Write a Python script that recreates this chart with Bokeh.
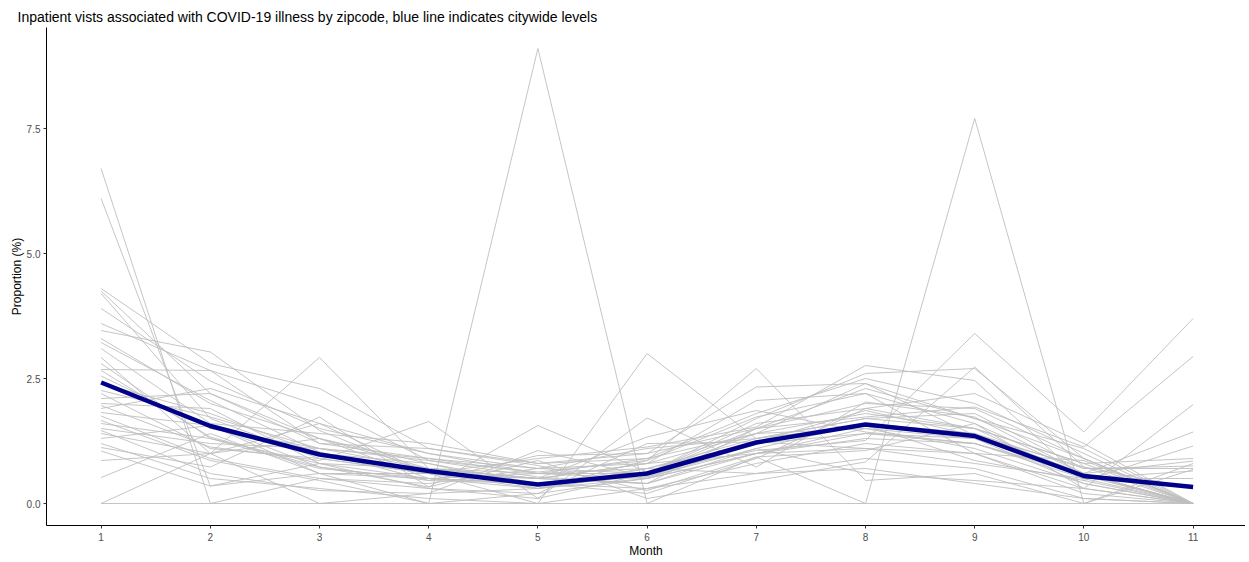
from bokeh.plotting import figure
from bokeh.models import Range1d, NumeralTickFormatter, FixedTicker, ColumnDataSource
from bokeh.embed import file_html
from bokeh.resources import INLINE

months = [1, 2, 3, 4, 5, 6, 7, 8, 9, 10, 11]

# Proportion (%) of inpatient visits by zipcode, per month
z01 = [6.70, 0.00, 0.50, 0.30, 0.20, 0.50, 1.00, 1.40, 1.20, 0.60, 0.00]
z02 = [6.10, 0.35, 0.80, 0.50, 0.40, 0.70, 1.30, 1.70, 1.50, 0.50, 0.00]
z03 = [4.30, 2.80, 2.30, 1.10, 0.80, 1.00, 1.50, 2.00, 1.90, 0.90, 0.00]
z04 = [4.25, 2.20, 1.30, 0.70, 0.50, 0.40, 1.10, 1.60, 1.40, 0.70, 0.70]
z05 = [4.20, 1.70, 0.90, 0.60, 0.30, 0.60, 1.70, 2.60, 2.70, 0.90, 0.00]
z06 = [3.90, 2.45, 1.50, 1.00, 0.60, 0.90, 1.40, 2.40, 1.70, 1.10, 0.00]
z07 = [3.60, 2.66, 1.20, 0.90, 0.70, 0.80, 2.06, 2.20, 1.60, 0.60, 0.85]
z08 = [3.46, 3.03, 1.46, 0.60, 0.90, 1.13, 1.53, 2.76, 2.46, 0.46, 0.00]
z09 = [3.22, 2.06, 1.03, 0.46, 0.40, 0.53, 1.23, 1.86, 1.36, 0.73, 0.30]
z10 = [2.92, 1.00, 2.92, 0.70, 0.50, 1.33, 1.86, 1.43, 1.20, 0.56, 0.00]
z11 = [2.68, 2.66, 1.96, 0.86, 0.63, 0.86, 1.73, 2.20, 1.00, 0.86, 0.00]
z12 = [2.66, 1.33, 0.73, 0.33, 1.56, 0.63, 1.06, 1.26, 3.40, 1.43, 3.70]
z13 = [2.26, 1.73, 1.10, 0.86, 0.53, 0.40, 1.50, 1.73, 1.93, 1.13, 2.94]
z14 = [2.10, 2.20, 1.20, 1.10, 0.76, 0.26, 0.93, 1.06, 1.60, 0.30, 1.98]
z15 = [1.96, 1.13, 0.86, 1.64, 0.10, 1.71, 0.73, 2.03, 1.73, 0.60, 1.43]
z16 = [1.82, 1.56, 0.60, 0.60, 0.00, 3.00, 1.30, 1.56, 0.86, 0.46, 1.15]
z17 = [1.66, 0.86, 0.46, 0.00, 9.10, 0.00, 0.93, 0.00, 7.70, 0.00, 0.68]
z18 = [1.46, 0.60, 0.26, 0.20, 0.30, 0.86, 2.70, 0.46, 0.60, 0.00, 0.80]
z19 = [1.30, 1.56, 0.73, 0.46, 0.96, 1.00, 2.33, 2.40, 1.36, 0.56, 0.00]
z20 = [1.12, 0.73, 1.73, 0.33, 0.86, 0.10, 0.46, 0.83, 2.73, 0.73, 0.00]
z21 = [0.86, 1.00, 0.00, 0.20, 1.06, 0.53, 1.10, 0.60, 0.46, 0.30, 0.00]
z22 = [0.52, 1.40, 0.60, 0.00, 0.20, 1.20, 1.23, 1.10, 1.00, 0.20, 0.00]
z23 = [0.00, 0.00, 0.00, 0.00, 0.00, 0.00, 0.00, 0.00, 0.00, 0.00, 0.00]
z24 = [0.00, 1.00, 1.30, 0.50, 0.60, 0.70, 1.20, 1.40, 1.30, 0.60, 0.00]
z25 = [2.00, 1.90, 0.80, 0.70, 0.50, 0.80, 1.40, 1.50, 1.10, 0.40, 0.00]
z26 = [2.40, 1.80, 1.00, 0.80, 0.30, 0.50, 1.00, 1.30, 1.20, 0.50, 0.50]
z27 = [1.50, 1.20, 1.10, 0.90, 0.60, 0.60, 1.60, 1.90, 1.50, 0.80, 0.00]
z28 = [1.75, 0.90, 0.50, 0.40, 0.70, 1.10, 1.30, 1.70, 1.80, 0.70, 0.75]
z29 = [2.80, 1.30, 0.70, 0.50, 0.40, 0.30, 0.80, 1.20, 1.00, 0.30, 0.00]
z30 = [3.10, 1.60, 1.40, 1.20, 0.80, 0.90, 1.80, 2.50, 2.00, 1.00, 0.00]
z31 = [1.20, 0.50, 0.30, 0.10, 0.00, 0.30, 0.60, 0.90, 0.70, 0.10, 0.00]
z32 = [2.20, 1.10, 0.90, 0.60, 0.50, 0.40, 1.00, 1.50, 1.30, 0.40, 0.00]
z33 = [1.90, 2.30, 1.60, 1.00, 0.70, 0.60, 1.40, 1.80, 1.50, 0.80, 0.90]
z34 = [2.55, 1.50, 1.10, 0.70, 0.60, 0.50, 1.20, 1.60, 1.40, 0.60, 0.00]
z35 = [1.05, 0.35, 0.60, 0.50, 0.30, 0.70, 0.60, 0.70, 0.40, 0.10, 0.00]
z36 = [3.30, 2.00, 1.30, 0.80, 0.40, 0.20, 0.90, 1.90, 2.20, 1.20, 0.00]
z37 = [1.40, 1.00, 1.60, 0.60, 0.50, 0.80, 1.00, 1.10, 0.80, 0.50, 0.65]
z38 = [1.60, 1.30, 0.80, 0.30, 0.10, 0.60, 1.50, 2.30, 1.70, 0.90, 0.00]

citywide = [2.42, 1.55, 0.98, 0.65, 0.38, 0.60, 1.22, 1.58, 1.35, 0.55, 0.33]

y_ticks = [0.0, 2.5, 5.0, 7.5]

zipcodes = [z01, z02, z03, z04, z05, z06, z07, z08, z09, z10, z11, z12, z13,
            z14, z15, z16, z17, z18, z19, z20, z21, z22, z23, z24, z25, z26,
            z27, z28, z29, z30, z31, z32, z33, z34, z35, z36, z37, z38]

FONT = "Liberation Sans"

p = figure(width=1245, height=560, output_backend="svg", toolbar_location=None,
           x_range=Range1d(0.5, 11.48), y_range=Range1d(-0.44, 9.52),
           min_border_left=46, min_border_right=0, min_border_top=27,
           min_border_bottom=20)

p.title.text = "Inpatient vists associated with COVID-19 illness by zipcode, blue line indicates citywide levels"
p.title.text_font = FONT
p.title.text_font_size = "14px"
p.title.text_font_style = "normal"
p.title.text_color = "#000000"
p.title.offset = -29
p.title.standoff = 2
p.title.vertical_align = "top"

src = ColumnDataSource(dict(xs=[months] * len(zipcodes), ys=zipcodes))
p.multi_line("xs", "ys", source=src, line_color="#bebebe", line_width=0.9)
p.line(months, citywide, line_color="#00008b", line_width=4.5)

p.xgrid.visible = False
p.ygrid.visible = False
p.outline_line_color = None
p.background_fill_color = "white"
p.border_fill_color = "white"

p.xaxis.ticker = FixedTicker(ticks=months)
p.yaxis.ticker = FixedTicker(ticks=y_ticks)
p.yaxis.formatter = NumeralTickFormatter(format="0.0")
p.xaxis.axis_label = "Month"
p.yaxis.axis_label = "Proportion (%)"

for ax in (p.xaxis, p.yaxis):
    ax.axis_line_color = "#000000"
    ax.axis_line_width = 1
    ax.major_tick_line_color = "#333333"
    ax.major_tick_in = 0
    ax.major_tick_out = 3
    ax.minor_tick_line_color = None
    ax.major_label_text_font = FONT
    ax.major_label_text_font_size = "10px"
    ax.major_label_text_color = "#4d4d4d"
    ax.axis_label_text_font = FONT
    ax.axis_label_text_font_size = "12px"
    ax.axis_label_text_font_style = "normal"
    ax.axis_label_text_color = "#000000"

p.xaxis.major_label_standoff = 4
p.yaxis.major_label_standoff = 3
p.xaxis.axis_label_standoff = 0
p.yaxis.axis_label_standoff = 0

open("out.html", "w").write(file_html(p, INLINE))
